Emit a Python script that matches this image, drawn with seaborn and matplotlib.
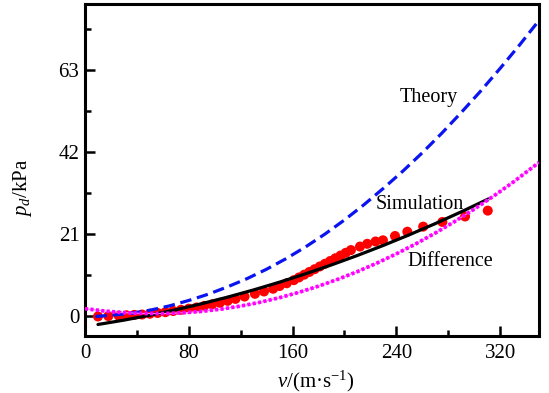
import matplotlib
matplotlib.use("Agg")
import matplotlib.pyplot as plt
from matplotlib.ticker import MultipleLocator
import seaborn as sns
import pandas as pd

# ---- data ----
v_theory = [8, 20, 35, 50, 65, 80, 95, 110, 125, 140, 155, 170, 185, 200, 215,
            230, 245, 260, 275, 290, 305, 320, 335, 350]
p_theory = [0.0, 0.3, 0.8, 1.6, 2.7, 4.1, 5.7, 7.6, 9.7, 12.1, 14.8, 17.8, 21.1,
            24.7, 28.6, 32.8, 37.2, 41.9, 46.9, 52.2, 57.7, 63.5, 69.5, 75.8]

v_fit = [10, 30, 50, 70, 90, 110, 130, 150, 170, 190, 210, 230, 250, 270, 290, 311]
p_fit = [-2.05, -0.94, 0.32, 1.72, 3.27, 4.96, 6.80, 8.79, 10.92, 13.20, 15.62,
         18.19, 20.91, 23.77, 26.78, 30.09]

v_diff = [0, 15, 30, 45, 60, 75, 90, 105, 120, 135, 150, 165, 180, 195, 210,
          225, 240, 255, 270, 285, 300, 315, 330, 350]
p_diff = [2.0, 1.39, 0.98, 0.76, 0.74, 0.93, 1.31, 1.89, 2.66, 3.64, 4.81, 6.19,
          7.76, 9.53, 11.49, 13.66, 16.03, 18.59, 21.35, 24.31, 27.47, 30.83,
          34.37, 39.43]

v_sim = [10, 18, 26, 32, 38, 44, 50, 56, 62, 68, 74, 80, 86, 92, 98, 104, 110,
         116, 123, 131, 138, 145, 150, 155.5, 161, 165, 169, 173, 177, 181, 185,
         189, 193, 197, 201, 205, 212, 217.6, 224, 229.7, 239, 248.5, 260.7,
         275.5, 293, 310.5]
p_sim = [0.0, 0.1, 0.2, 0.3, 0.4, 0.5, 0.7, 0.9, 1.1, 1.4, 1.7, 2.0, 2.3, 2.7,
         3.1, 3.5, 4.0, 4.5, 5.1, 5.8, 6.4, 7.1, 7.8, 8.5, 9.3, 10.0, 10.7, 11.4,
         12.1, 12.8, 13.5, 14.2, 14.9, 15.6, 16.3, 17.0, 17.9, 18.6, 19.2, 19.5,
         20.6, 21.7, 23.0, 24.2, 25.6, 27.1]

x_ticks = [0, 80, 160, 240, 320]
y_ticks = [0, 21, 42, 63]

labels = {"Theory": (265, 56), "Simulation": (258, 28.7), "Difference": (282, 14)}

# ---- style ----
sns.set_theme(style="ticks")
plt.rcParams["font.family"] = ["Liberation Serif", "DejaVu Serif"]
plt.rcParams["mathtext.fontset"] = "custom"
plt.rcParams["mathtext.rm"] = "Liberation Serif"
plt.rcParams["mathtext.it"] = "Liberation Serif:italic"
plt.rcParams["text.color"] = "black"
plt.rcParams["axes.labelcolor"] = "black"

fig = plt.figure(figsize=(5.49, 3.93), dpi=100)
ax = fig.add_axes([85 / 549, 1 - 336 / 393, (539 - 85) / 549, (336 - 4) / 393])

df_sim = pd.DataFrame({"v": v_sim, "p": p_sim})
df_fit = pd.DataFrame({"v": v_fit, "p": p_fit})
df_th = pd.DataFrame({"v": v_theory, "p": p_theory})
df_diff = pd.DataFrame({"v": v_diff, "p": p_diff})

sns.scatterplot(data=df_sim, x="v", y="p", ax=ax, color="#ff0000", s=52,
                edgecolor="none", zorder=2, legend=False)
sns.lineplot(data=df_fit, x="v", y="p", ax=ax, color="black", lw=2.3,
             zorder=3, legend=False)
sns.lineplot(data=df_th, x="v", y="p", ax=ax, color="#0a14f0", lw=2.3,
             dashes=False, zorder=4, legend=False)
ax.lines[-1].set_dashes([3.6, 1.8])
sns.lineplot(data=df_diff, x="v", y="p", ax=ax, color="#ff80ff", lw=0.8,
             zorder=5, legend=False)
sns.lineplot(data=df_diff, x="v", y="p", ax=ax, color="#ff00ff", lw=2.7,
             zorder=6, legend=False)
ax.lines[-1].set_dashes([0.85, 0.6])
ax.lines[-1].set_dash_capstyle("butt")

for txt, (x, y) in labels.items():
    ax.text(x, y, txt, fontsize=14.5, ha="center", va="center", color="black",
            zorder=7)

ax.set_xlim(0, 350)
ax.set_ylim(-5, 80)
ax.set_xticks(x_ticks)
ax.set_yticks(y_ticks)
ax.xaxis.set_minor_locator(MultipleLocator(40))
ax.yaxis.set_minor_locator(MultipleLocator(10.5))

for side in ["left", "right", "top", "bottom"]:
    ax.spines[side].set_visible(True)
    ax.spines[side].set_linewidth(2.2)
    ax.spines[side].set_color("black")

ax.tick_params(which="both", direction="in", width=1.8, color="black",
               labelcolor="black", top=False, right=False, labelsize=15)
ax.tick_params(axis="x", pad=6)
ax.tick_params(axis="y", pad=4)
ax.tick_params(which="major", length=7)
ax.tick_params(which="minor", length=4.5)

ax.set_xlabel("$v$/(m·s$^{-1}$)", fontsize=15, color="black")
ax.set_ylabel("$p_d$/kPa", fontsize=15, color="black")
ax.xaxis.set_label_coords(0.509, -0.10)
ax.yaxis.set_label_coords(-0.113, 0.446)
ax.set_facecolor("white")
fig.patch.set_facecolor("white")

fig.savefig("out.png", dpi=100)
